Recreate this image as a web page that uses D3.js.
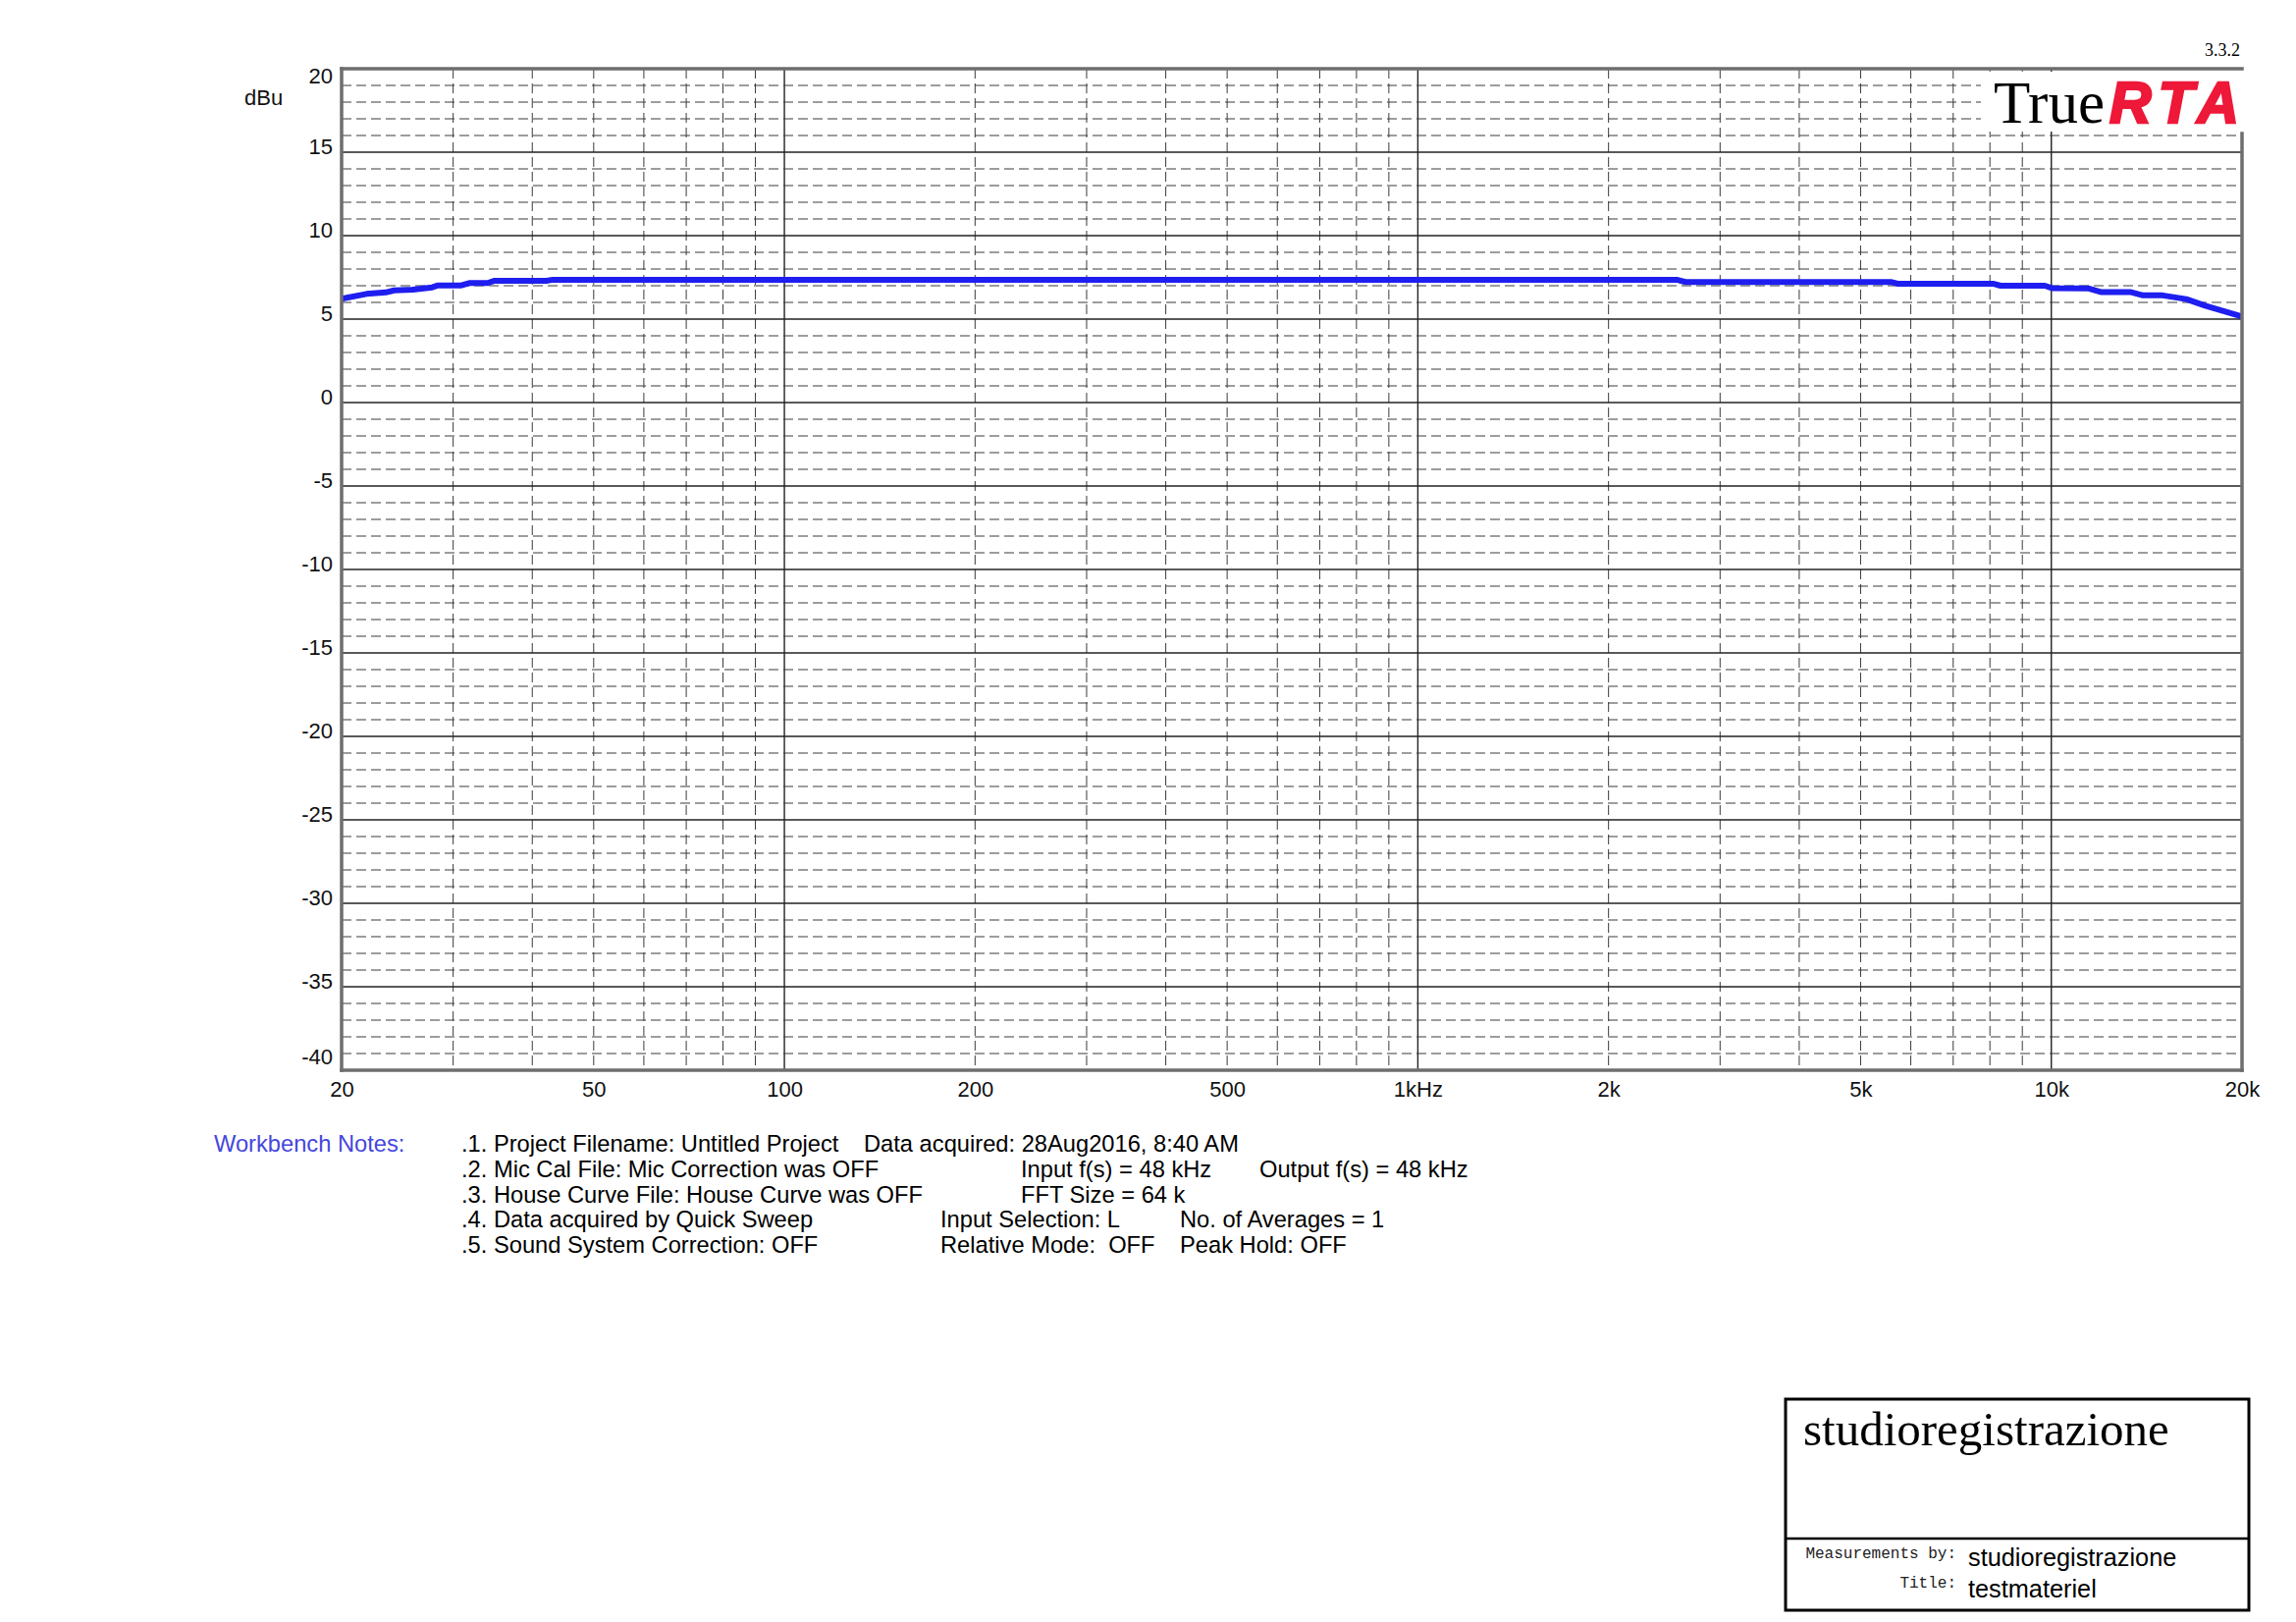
<!DOCTYPE html>
<html>
<head>
<meta charset="utf-8">
<script src="https://cdn.jsdelivr.net/npm/d3@7"></script>
<style>
  html, body { margin: 0; padding: 0; background: #fff; }
  svg { display: block; }
  text { white-space: pre; }
</style>
</head>
<body>
<svg id="chart" width="2339" height="1652"></svg>
<script>
// ---------------- data ----------------
const freqs  = [20, 21.9, 23.5, 24.2, 25.9, 27.8, 28.4, 30.9, 31.8, 34.0, 34.8, 42.1, 43.1,
                2562, 2646, 5598, 5718, 8086, 8318, 9768, 10018, 11428, 11968, 13324, 13958,
                14986, 16326, 17500, 20000];
const levels = [6.22, 6.51, 6.60, 6.72, 6.76, 6.90, 7.02, 7.02, 7.16, 7.16, 7.29, 7.29, 7.36,
                7.36, 7.22, 7.22, 7.12, 7.12, 7.00, 7.00, 6.86, 6.84, 6.62, 6.62, 6.42,
                6.42, 6.20, 5.80, 5.15];

const xTickValues = [20, 50, 100, 200, 500, 1000, 2000, 5000, 10000, 20000];
const xTickLabels = ["20", "50", "100", "200", "500", "1kHz", "2k", "5k", "10k", "20k"];
const yTickValues = [20, 15, 10, 5, 0, -5, -10, -15, -20, -25, -30, -35, -40];
const yTickLabels = ["20", "15", "10", "5", "0", "-5", "-10", "-15", "-20", "-25", "-30", "-35", "-40"];
const yUnit = "dBu";
const version = "3.3.2";

const notesLabel = "Workbench Notes:";
const notesCol1 = [".1. Project Filename: Untitled Project",
                   ".2. Mic Cal File: Mic Correction was OFF",
                   ".3. House Curve File: House Curve was OFF",
                   ".4. Data acquired by Quick Sweep",
                   ".5. Sound System Correction: OFF"];
const notesCol2 = ["Data acquired: 28Aug2016, 8:40 AM", "Input f(s) = 48 kHz", "FFT Size = 64 k",
                   "Input Selection: L", "Relative Mode:  OFF"];
const notesCol3 = ["", "Output f(s) = 48 kHz", "", "No. of Averages = 1", "Peak Hold: OFF"];

const company = "studioregistrazione";
const measuredBy = "studioregistrazione";
const titleText = "testmateriel";

// ---------------- layout ----------------
const L = 348, R = 2284, T = 70, B = 1090;
const svg = d3.select("#chart");

const x = d3.scaleLog().domain([20, 20000]).range([L, R]);
const y = d3.scaleLinear().domain([-40, 20]).range([B, T]);

// grid
const grid = svg.append("g");
const minorF = [];
[10, 100, 1000, 10000].forEach(dec => {
  for (let k = 1; k <= 9; k++) {
    const f = dec * k;
    if (f > 20 && f < 20000) minorF.push(f);
  }
});
const majorF = [100, 1000, 10000];
grid.selectAll("line.v").data(minorF).join("line")
  .attr("x1", d => x(d)).attr("x2", d => x(d))
  .attr("y1", T).attr("y2", B)
  .attr("stroke", d => majorF.includes(d) ? "#222" : "#3a3a3a")
  .attr("stroke-width", d => majorF.includes(d) ? 1.4 : 1)
  .attr("stroke-dasharray", d => majorF.includes(d) ? null : "10,5");

const dbs = d3.range(-39, 20);
grid.selectAll("line.h").data(dbs).join("line")
  .attr("x1", L).attr("x2", R)
  .attr("y1", d => y(d)).attr("y2", d => y(d))
  .attr("stroke", d => d % 5 === 0 ? "#222" : "#3a3a3a")
  .attr("stroke-width", d => d % 5 === 0 ? 1.4 : 1)
  .attr("stroke-dasharray", d => d % 5 === 0 ? null : "10,5");

// curve
const pts = freqs.map((f, i) => [f, levels[i]]);
svg.append("path")
  .datum(pts)
  .attr("fill", "none")
  .attr("stroke", "#1e1ef0")
  .attr("stroke-width", 6)
  .attr("stroke-linejoin", "round")
  .attr("d", d3.line().x(d => x(d[0])).y(d => y(d[1])));

// logo background
svg.append("rect").attr("x", 2018).attr("y", 73).attr("width", 274).attr("height", 61).attr("fill", "#fff");

// border
const border = svg.append("g").attr("stroke", "#6e6e6e").attr("stroke-width", 3.5).attr("stroke-linecap", "square");
border.append("line").attr("x1", L).attr("x2", R).attr("y1", T).attr("y2", T);
border.append("line").attr("x1", L).attr("x2", L).attr("y1", T).attr("y2", B);
border.append("line").attr("x1", L).attr("x2", R).attr("y1", B).attr("y2", B);
border.append("line").attr("x1", R).attr("x2", R).attr("y1", 136).attr("y2", B);

// axes (labels only)
const font = "Liberation Sans, Arial, sans-serif";
const yAxis = svg.append("g").attr("transform", `translate(${L},0)`)
  .call(d3.axisLeft(y).tickValues(yTickValues).tickSize(0).tickPadding(9)
    .tickFormat((d, i) => yTickLabels[i]));
yAxis.select(".domain").remove();
yAxis.selectAll("text")
  .attr("font-family", font).attr("font-size", 22).attr("fill", "#111")
  .attr("dy", null)
  .attr("y", d => Math.min(Math.max(1.4, T + 14 - y(d)), B - 7 - y(d)));

const xAxis = svg.append("g").attr("transform", `translate(0,${B})`)
  .call(d3.axisBottom(x).tickValues(xTickValues).tickSize(0).tickPadding(11)
    .tickFormat((d, i) => xTickLabels[i]));
xAxis.select(".domain").remove();
xAxis.selectAll("text").attr("font-family", font).attr("font-size", 22).attr("fill", "#111");

svg.append("text").attr("x", 249).attr("y", 107).attr("font-family", font).attr("font-size", 22)
  .attr("fill", "#111").text(yUnit);

// logo
svg.append("text").attr("x", 2282).attr("y", 57).attr("text-anchor", "end")
  .attr("font-family", "Liberation Serif, Times New Roman, serif").attr("font-size", 18).text(version);
const logo = svg.append("text").attr("x", 2031).attr("y", 125);
logo.append("tspan").attr("font-family", "Liberation Serif, Times New Roman, serif").attr("font-size", 61)
  .attr("fill", "#000").text("True");
logo.append("tspan").attr("font-family", font).attr("font-size", 59).attr("font-weight", "bold")
  .attr("font-style", "italic").attr("fill", "#ee1838").attr("stroke", "#ee1838").attr("stroke-width", 2.5)
  .attr("letter-spacing", 8).attr("dx", 5).text("RTA");

// notes
const nf = 23.7, base0 = 1173, step = 25.75;
svg.append("text").attr("x", 218).attr("y", base0).attr("font-family", font).attr("font-size", nf)
  .attr("fill", "#4646dc").text(notesLabel);
const colX2 = [880, 1040, 1040, 958, 958];
const colX3 = [0, 1283, 0, 1202, 1202];
notesCol1.forEach((t, i) => {
  svg.append("text").attr("x", 470).attr("y", base0 + i * step).attr("font-family", font).attr("font-size", nf).text(t);
  svg.append("text").attr("x", colX2[i]).attr("y", base0 + i * step).attr("font-family", font).attr("font-size", nf).text(notesCol2[i]);
  if (notesCol3[i]) svg.append("text").attr("x", colX3[i]).attr("y", base0 + i * step).attr("font-family", font).attr("font-size", nf).text(notesCol3[i]);
});

// title block
const tb = svg.append("g");
tb.append("rect").attr("x", 1819).attr("y", 1425).attr("width", 472).attr("height", 215)
  .attr("fill", "none").attr("stroke", "#000").attr("stroke-width", 3);
tb.append("line").attr("x1", 1819).attr("x2", 2291).attr("y1", 1567).attr("y2", 1567)
  .attr("stroke", "#000").attr("stroke-width", 2.5);
tb.append("text").attr("x", 1837).attr("y", 1472).attr("font-family", "Liberation Serif, Times New Roman, serif")
  .attr("font-size", 49).text(company);
tb.append("text").attr("x", 1993).attr("y", 1587).attr("text-anchor", "end")
  .attr("font-family", "Liberation Mono, Courier New, monospace").attr("font-size", 16).attr("fill", "#222").text("Measurements by:");
tb.append("text").attr("x", 1993).attr("y", 1617).attr("text-anchor", "end")
  .attr("font-family", "Liberation Mono, Courier New, monospace").attr("font-size", 16).attr("fill", "#222").text("Title:");
tb.append("text").attr("x", 2005).attr("y", 1595).attr("font-family", font).attr("font-size", 25.3).text(measuredBy);
tb.append("text").attr("x", 2005).attr("y", 1627).attr("font-family", font).attr("font-size", 25.3).text(titleText);
</script>
</body>
</html>
